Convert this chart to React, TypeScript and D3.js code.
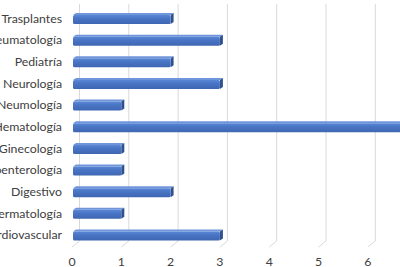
import React from "react";
import * as d3 from "d3";

const categories = [
  "Trasplantes",
  "Reumatología",
  "Pediatría",
  "Neurología ",
  "Neumología",
  "Hematología",
  "Ginecología",
  "Gastroenterología",
  "Digestivo",
  "Dermatología",
  "Cardiovascular",
];
const values = [2, 3, 2, 3, 1, 7, 1, 1, 2, 1, 3];
const ticks = [0, 1, 2, 3, 4, 5, 6, 7];

const W = 400;
const H = 267;
// oblique offset of the back wall relative to the floor front edge
const DEPTH_X = 7.5;
const DEPTH_Y = 6;
// bar's own depth
const BAR_DX = 3;
const BAR_DY = 2;

export default function App() {
  const x = d3.scaleLinear().domain([0, 7]).range([72, 72 + 7 * 49.3]);
  const y = d3
    .scaleBand<string>()
    .domain(categories)
    .range([7.7, 245.8])
    .paddingInner(0.49)
    .paddingOuter(0.245);

  const wallTop = 4;
  const wallBottom = 241;
  const bh = y.bandwidth();

  return (
    <svg width={W} height={H} style={{ position: "absolute", left: 0, top: 0, display: "block" }}>
      <defs>
        <linearGradient id="barFront" x1="0" y1="0" x2="0" y2="1">
          <stop offset="0" stopColor="#5b87d6" />
          <stop offset="0.35" stopColor="#4a76c6" />
          <stop offset="1" stopColor="#3e66b2" />
        </linearGradient>
        <clipPath id="plotClip">
          <rect x={0} y={0} width={W} height={H} />
        </clipPath>
      </defs>
      <rect width={W} height={H} fill="#ffffff" />
      <g clipPath="url(#plotClip)">
        {ticks.map((t) => {
          const fx = x(t);
          const wx = fx + DEPTH_X;
          return (
            <g key={t}>
              <line x1={wx} x2={wx} y1={wallTop} y2={wallBottom} stroke="#d9d9d9" strokeWidth={1} />
              <line
                x1={wx}
                y1={wallBottom}
                x2={fx}
                y2={wallBottom + DEPTH_Y}
                stroke="#d9d9d9"
                strokeWidth={1}
              />
            </g>
          );
        })}
        {categories.map((c, i) => {
          const top = y(c) as number;
          const bottom = top + bh;
          const x0 = x(0) + 1;
          const x1 = x(values[i]);
          const frontTop = top + BAR_DY;
          return (
            <g key={c}>
              {/* top face */}
              <path
                d={`M${x0},${frontTop} L${x0 + BAR_DX},${top} L${x1 + BAR_DX},${top} L${x1},${frontTop} Z`}
                fill="#6f95da"
              />
              {/* end cap */}
              <path
                d={`M${x1},${frontTop} L${x1 + BAR_DX},${top} L${x1 + BAR_DX},${bottom - BAR_DY} L${x1},${bottom} Z`}
                fill="#2f528f"
              />
              {/* front face */}
              <rect
                x={x0}
                y={frontTop}
                width={x1 - x0}
                height={bottom - frontTop}
                rx={1.5}
                fill="url(#barFront)"
              />
            </g>
          );
        })}
        {categories.map((c) => (
          <text
            key={c}
            x={62}
            y={(y(c) as number) + bh / 2}
            dy="0.35em"
            textAnchor="end"
            fontFamily="Lato, 'Open Sans', sans-serif"
            fontSize={12.3}
            fill="#404040"
          >
            {c}
          </text>
        ))}
        {ticks.map((t) => (
          <text
            key={t}
            x={x(t)}
            y={262}
            dy="0.35em"
            textAnchor="middle"
            fontFamily="Lato, 'Open Sans', sans-serif"
            fontSize={12.3}
            fill="#404040"
          >
            {t}
          </text>
        ))}
      </g>
    </svg>
  );
}
